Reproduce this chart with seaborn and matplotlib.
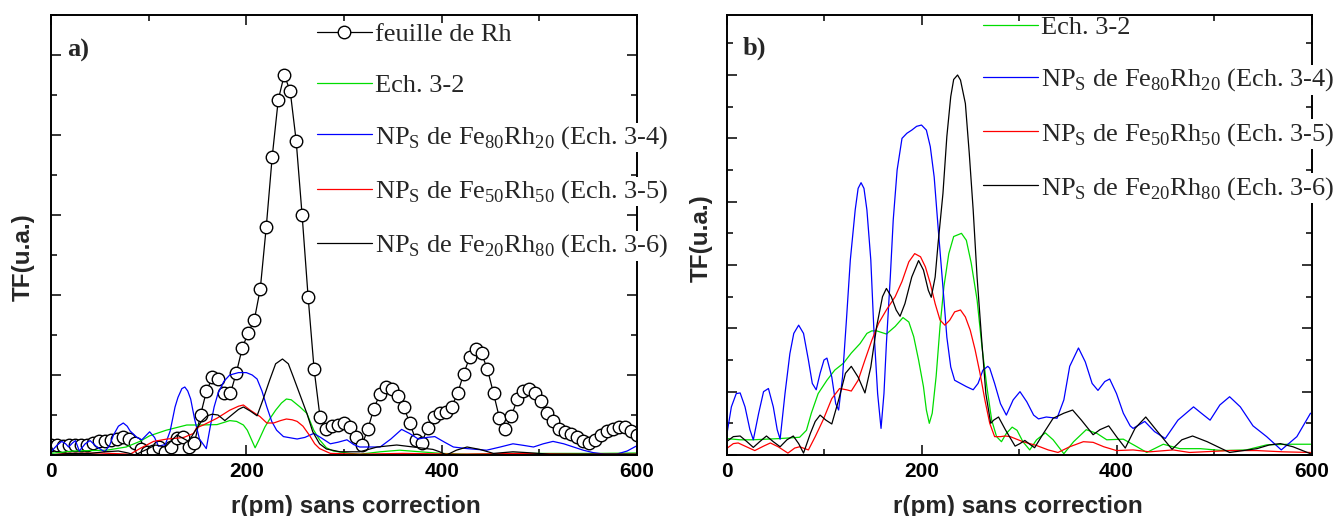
import numpy as np
import matplotlib
matplotlib.use("Agg")
import matplotlib.pyplot as plt
from matplotlib.ticker import MultipleLocator
import seaborn as sns

# ---------------- panel a) ----------------
# reference Rh foil (open circles)
rh_r = [0, 6.1, 12.2, 18.4, 24.5, 30.6, 36.7, 42.9, 49.0, 55.1,
        61.2, 67.3, 73.5, 79.6, 85.7, 91.8, 98.0, 104.1, 110.2, 116.3,
        122.4, 128.6, 134.7, 140.8, 146.9, 153.1, 159.2, 165.3, 171.4, 177.6,
        183.7, 189.8, 195.9, 202.0, 208.2, 214.3, 220.4, 226.5, 232.7, 238.8,
        244.9, 251.0, 257.1, 263.3, 269.4, 275.5, 281.6, 287.8, 293.9, 300.0,
        306.1, 312.2, 318.4, 324.5, 330.6, 336.7, 342.9, 349.0, 355.1, 361.2,
        367.3, 373.5, 379.6, 385.7, 391.8, 398.0, 404.1, 410.2, 416.3, 422.4,
        428.6, 434.7, 440.8, 446.9, 453.1, 459.2, 465.3, 471.4, 477.6, 483.7,
        489.8, 495.9, 502.0, 508.2, 514.3, 520.4, 526.5, 532.7, 538.8, 544.9,
        551.0, 557.1, 563.3, 569.4, 575.5, 581.6, 587.8, 593.9, 600.0]
rh_tf = [0.125, 0.125, 0.11, 0.125, 0.125, 0.125, 0.13, 0.15, 0.17, 0.18,
         0.19, 0.2, 0.22, 0.2, 0.15, 0.08, 0.04, 0.05, 0.1, 0.04,
         0.1, 0.21, 0.22, 0.1, 0.15, 0.5, 0.8, 0.97, 0.95, 0.78,
         0.77, 1.03, 1.34, 1.53, 1.69, 2.08, 2.85, 3.73, 4.44, 4.75,
         4.55, 3.93, 3.0, 1.97, 1.07, 0.47, 0.32, 0.36, 0.38, 0.4,
         0.35, 0.22, 0.12, 0.33, 0.58, 0.76, 0.85, 0.83, 0.74, 0.6,
         0.4, 0.19, 0.15, 0.34, 0.48, 0.53, 0.54, 0.6, 0.77, 1.01,
         1.22, 1.32, 1.27, 1.07, 0.77, 0.46, 0.32, 0.49, 0.7, 0.8,
         0.83, 0.78, 0.67, 0.53, 0.42, 0.33, 0.29, 0.26, 0.22, 0.17,
         0.15, 0.19, 0.25, 0.3, 0.33, 0.35, 0.35, 0.3, 0.25]

a_green_r = [0, 23, 57, 77, 91, 101, 118, 139, 153, 170, 183, 190, 197, 201, 205, 209,
             213, 219, 225, 230, 236, 241, 246, 250, 255, 262, 269, 275, 282, 289, 306,
             316, 337, 357, 378, 400, 426, 470, 520, 560, 600]
a_green_tf = [0.02, 0.05, 0.06, 0.10, 0.17, 0.24, 0.31, 0.375, 0.375, 0.38, 0.43, 0.42,
              0.375, 0.31, 0.2, 0.09, 0.19, 0.35, 0.47, 0.56, 0.65, 0.70, 0.69, 0.65,
              0.60, 0.52, 0.31, 0.19, 0.09, 0.05, 0.02, 0.01, 0.04, 0.06, 0.04, 0.02,
              0.01, 0.02, 0.02, 0.02, 0.025]

a_blue_r = [0, 6, 11, 15, 18, 22, 25, 29, 35, 40, 47, 55, 60, 64, 69, 74, 78, 81, 88,
            93, 97, 101, 106, 110, 117, 122, 127, 130, 134, 137, 140, 143, 147, 152, 159,
            163, 167, 171, 177, 183, 192, 200, 206, 211, 216, 221, 226, 231, 238, 252,
            260, 269, 276, 286, 294, 303, 310, 316, 337, 348, 359, 367, 376, 385, 393,
            403, 412, 426, 446, 460, 473, 484, 494, 504, 514, 525, 535, 545, 555, 567,
            579, 590, 599]
a_blue_tf = [0.04, 0.12, 0.17, 0.14, 0.10, 0.15, 0.18, 0.05, 0.14, 0.18, 0.10, 0.04,
             0.12, 0.25, 0.36, 0.40, 0.36, 0.30, 0.22, 0.19, 0.24, 0.29, 0.22, 0.11,
             0.13, 0.30, 0.60, 0.72, 0.83, 0.85, 0.80, 0.70, 0.45, 0.20, 0.08, 0.35,
             0.60, 0.77, 0.92, 1.00, 1.03, 1.03, 1.00, 0.95, 0.80, 0.60, 0.42, 0.31,
             0.23, 0.20, 0.22, 0.27, 0.22, 0.14, 0.16, 0.19, 0.13, 0.10, 0.10, 0.20,
             0.32, 0.27, 0.20, 0.22, 0.23, 0.16, 0.10, 0.08, 0.06, 0.10, 0.14, 0.12,
             0.10, 0.14, 0.17, 0.14, 0.10, 0.06, 0.03, 0.01, 0.01, 0.05, 0.11]

a_red_r = [0, 16, 50, 81, 91, 105, 119, 129, 136, 146, 149, 156, 170, 183, 192, 197,
           204, 214, 221, 228, 235, 241, 247, 252, 258, 265, 270, 275, 286, 316, 360,
           420, 480, 540, 600]
a_red_tf = [0.0, 0.02, 0.025, 0.01, 0.08, 0.17, 0.20, 0.21, 0.22, 0.27, 0.34, 0.375,
            0.46, 0.56, 0.61, 0.625, 0.56, 0.48, 0.40, 0.40, 0.43, 0.45, 0.44, 0.42,
            0.36, 0.24, 0.14, 0.08, 0.02, 0.01, 0.02, 0.01, 0.02, 0.01, 0.01]

a_black_r = [0, 20, 40, 55, 69, 79, 86, 98, 107, 117, 129, 141, 147, 154, 160, 165,
             171, 178, 186, 192, 197, 204, 211, 217, 224, 230, 237, 243, 248, 255, 262,
             268, 275, 282, 296, 316, 334, 354, 371, 391, 398, 405, 415, 426, 439, 453,
             473, 487, 511, 600]
a_black_tf = [0.0, 0.02, 0.02, 0.04, 0.05, 0.025, 0.0, 0.07, 0.125, 0.10, 0.25, 0.17,
              0.29, 0.42, 0.49, 0.51, 0.50, 0.43, 0.51, 0.57, 0.60, 0.55, 0.49, 0.69,
              0.94, 1.14, 1.20, 1.14, 0.98, 0.75, 0.52, 0.29, 0.14, 0.075, 0.04, 0.04,
              0.10, 0.125, 0.10, 0.07, 0.04, 0.0, 0.06, 0.10, 0.07, 0.02, 0.04, 0.03,
              0.01, 0.01]

# ---------------- panel b) ----------------
b_green_r = [0, 14, 27, 55, 75, 82, 87, 94, 103, 111, 120, 128, 137, 144, 149, 154,
             164, 173, 181, 187, 192, 197, 202, 205, 208, 211, 215, 219, 223, 228, 233,
             241, 246, 251, 257, 262, 267, 272, 277, 282, 287, 293, 298, 304, 311, 318,
             327, 335, 346, 356, 369, 380, 390, 407, 421, 431, 448, 465, 486, 509, 533,
             554, 578, 599]
b_green_tf = [0.26, 0.24, 0.24, 0.26, 0.28, 0.39, 0.66, 0.97, 1.18, 1.34, 1.45, 1.61,
              1.76, 1.92, 1.96, 1.96, 1.91, 2.03, 2.17, 2.10, 1.87, 1.50, 1.08, 0.71,
              0.50, 0.66, 1.24, 2.03, 2.66, 3.18, 3.45, 3.50, 3.39, 3.03, 2.45, 1.71,
              1.08, 0.55, 0.29, 0.21, 0.34, 0.44, 0.39, 0.21, 0.08, 0.24, 0.35, 0.24,
              0.02, 0.21, 0.40, 0.34, 0.24, 0.25, 0.13, 0.04, 0.17, 0.10, 0.10, 0.07,
              0.08, 0.16, 0.17, 0.17]

b_blue_r = [0, 5, 10, 14, 19, 24, 27.5, 33, 38, 43, 48, 52, 55, 60, 65, 69, 74, 79, 84,
            88, 92, 96, 100, 103, 108, 112, 115, 119, 123, 127, 132, 135, 138, 141, 144,
            148, 151, 155, 158.5, 161.5, 164, 168, 171, 175, 180, 185, 190, 195, 200,
            205, 209, 213, 217, 222, 226, 230, 234, 240, 246, 253, 258, 263, 268, 270,
            275, 281, 287, 294, 301, 308, 315, 320, 328, 339, 346, 352, 361, 368, 375,
            381, 388, 393, 400, 407, 414, 417, 429, 439, 450, 463, 479, 487, 496, 506,
            516, 527, 540, 554, 569, 585, 599]
b_blue_tf = [0.29, 0.76, 0.97, 0.98, 0.76, 0.40, 0.24, 0.66, 1.00, 1.05, 0.76, 0.40,
             0.25, 0.97, 1.60, 1.92, 2.05, 1.92, 1.50, 1.13, 1.03, 1.29, 1.50, 1.53,
             1.23, 0.81, 0.71, 1.23, 2.13, 3.08, 3.87, 4.21, 4.30, 4.21, 3.87, 3.08,
             2.03, 0.97, 0.42, 0.97, 1.76, 2.81, 3.71, 4.50, 5.00, 5.08, 5.13, 5.19,
             5.21, 5.13, 4.87, 4.39, 3.60, 2.65, 1.86, 1.39, 1.18, 1.13, 1.08, 1.03,
             1.13, 1.34, 1.40, 1.37, 1.13, 0.81, 0.63, 0.87, 1.00, 0.84, 0.63, 0.57,
             0.60, 0.58, 0.87, 1.40, 1.69, 1.47, 1.13, 1.02, 1.16, 1.20, 0.97, 0.66,
             0.46, 0.42, 0.53, 0.37, 0.26, 0.55, 0.76, 0.66, 0.55, 0.79, 0.92, 0.76,
             0.46, 0.29, 0.08, 0.29, 0.66]

b_red_r = [0, 7, 12, 19, 29, 38, 45, 53, 63, 70, 75, 84, 91, 99, 108, 116, 123, 128,
           135, 142, 149, 156, 164, 173, 180, 187, 193, 199, 204, 209, 214, 219, 224,
           229, 234, 240, 245, 250, 255, 260, 265, 270, 275, 281, 286, 291, 304, 318,
           330, 340, 352, 366, 376, 387, 400, 417, 434, 458, 475, 516, 544, 571, 599]
b_red_tf = [0.10, 0.18, 0.19, 0.14, 0.07, 0.14, 0.19, 0.13, 0.03, 0.11, 0.13, 0.08,
            0.29, 0.55, 0.89, 1.05, 1.03, 1.01, 1.18, 1.50, 1.81, 2.08, 2.29, 2.50,
            2.74, 3.05, 3.18, 3.13, 2.97, 2.71, 2.39, 2.13, 2.05, 2.13, 2.26, 2.29,
            2.18, 1.97, 1.66, 1.29, 0.87, 0.50, 0.29, 0.29, 0.30, 0.29, 0.21, 0.15,
            0.08, 0.04, 0.13, 0.21, 0.20, 0.13, 0.07, 0.08, 0.05, 0.08, 0.04, 0.07,
            0.07, 0.05, 0.04]

b_black_r = [0, 7, 14, 21, 27.5, 34, 41, 48, 55, 62, 68.5, 74, 79, 86, 91, 96, 102,
             108, 115, 122, 128, 135, 142, 148, 154, 160, 164, 169, 174, 178, 183, 190,
             197, 202, 207, 210, 214, 217, 222, 226, 230, 233, 237, 240, 245, 249, 253,
             257, 262, 266, 271, 274, 279, 286, 296, 301, 306, 311, 316, 325, 335, 346,
             355, 364, 376, 383, 392, 400, 409, 419, 430, 441, 457, 467, 478, 493, 516,
             544, 557, 568, 581, 599]
b_black_tf = [0.21, 0.29, 0.30, 0.21, 0.12, 0.21, 0.30, 0.21, 0.13, 0.24, 0.30, 0.18,
              0.03, 0.34, 0.53, 0.63, 0.55, 0.49, 0.87, 1.29, 1.40, 1.23, 0.98, 1.39,
              2.03, 2.50, 2.63, 2.50, 2.29, 2.19, 2.39, 2.81, 3.07, 2.92, 2.60, 2.49,
              2.81, 3.34, 4.13, 5.03, 5.66, 5.93, 6.00, 5.92, 5.55, 4.76, 3.87, 2.81,
              1.76, 0.97, 0.50, 0.55, 0.60, 0.40, 0.14, 0.18, 0.23, 0.17, 0.115, 0.34,
              0.58, 0.66, 0.71, 0.55, 0.32, 0.40, 0.46, 0.29, 0.11, 0.42, 0.60, 0.39,
              0.09, 0.24, 0.30, 0.21, 0.04, 0.10, 0.16, 0.18, 0.13, 0.02]

lab_rh = "feuille de Rh"
lab_32 = "Ech. 3-2"
lab_34 = r"NP$_\mathregular{S}$ de Fe$_\mathregular{80}$Rh$_\mathregular{20}$ (Ech. 3-4)"
lab_35 = r"NP$_\mathregular{S}$ de Fe$_\mathregular{50}$Rh$_\mathregular{50}$ (Ech. 3-5)"
lab_36 = r"NP$_\mathregular{S}$ de Fe$_\mathregular{20}$Rh$_\mathregular{80}$ (Ech. 3-6)"

GREEN, BLUE, RED, BLACK = "#00dd00", "#0000ff", "#ff0000", "#000000"

sns.set_style("ticks")
plt.rcParams['font.family'] = ['Liberation Sans', 'DejaVu Sans']

W, H = 1337, 516
fig = plt.figure(figsize=(W / 100, H / 100), dpi=100)
ax_a = fig.add_axes([51 / W, 61 / H, 586 / W, 440 / H])
ax_b = fig.add_axes([726.5 / W, 61 / H, 585 / W, 440 / H])

lw = 0.9
# panel a
sns.lineplot(x=rh_r, y=rh_tf, ax=ax_a, color=BLACK, lw=lw, marker="o", markersize=9,
             markerfacecolor="white", markeredgecolor="black", markeredgewidth=1.0,
             errorbar=None, label=lab_rh)
sns.lineplot(x=a_green_r, y=a_green_tf, ax=ax_a, color=GREEN, lw=lw, errorbar=None, label=lab_32)
sns.lineplot(x=a_blue_r, y=a_blue_tf, ax=ax_a, color=BLUE, lw=lw, errorbar=None, label=lab_34)
sns.lineplot(x=a_red_r, y=a_red_tf, ax=ax_a, color=RED, lw=lw, errorbar=None, label=lab_35)
sns.lineplot(x=a_black_r, y=a_black_tf, ax=ax_a, color=BLACK, lw=lw, errorbar=None, label=lab_36)

# panel b
sns.lineplot(x=b_green_r, y=b_green_tf, ax=ax_b, color=GREEN, lw=lw, errorbar=None, label=lab_32)
sns.lineplot(x=b_blue_r, y=b_blue_tf, ax=ax_b, color=BLUE, lw=lw, errorbar=None, label=lab_34)
sns.lineplot(x=b_red_r, y=b_red_tf, ax=ax_b, color=RED, lw=lw, errorbar=None, label=lab_35)
sns.lineplot(x=b_black_r, y=b_black_tf, ax=ax_b, color=BLACK, lw=lw, errorbar=None, label=lab_36)

ax_a.set_ylim(0, 5.5)
ax_b.set_ylim(0, 440 / 63.33)

for ax in (ax_a, ax_b):
    ax.set_xlim(0, 600)
    ax.xaxis.set_major_locator(MultipleLocator(200))
    ax.xaxis.set_minor_locator(MultipleLocator(100))
    ax.yaxis.set_major_locator(MultipleLocator(1))
    ax.yaxis.set_minor_locator(MultipleLocator(0.5))
    ax.tick_params(which="both", direction="in", top=True, right=True,
                   width=1.1, color="black", labelleft=False)
    ax.tick_params(which="major", length=7.5)
    ax.tick_params(which="minor", length=4)
    ax.tick_params(axis="x", labelsize=15, pad=5, labelcolor="black")
    for tl in ax.get_xticklabels():
        tl.set_fontweight("bold")
    for sp in ax.spines.values():
        sp.set_color("black")
        sp.set_linewidth(1.4)
    ax.set_xlabel("r(pm) sans correction", fontsize=17.5, fontweight="bold")
    ax.set_ylabel("TF(u.a.)", fontsize=17.5, fontweight="bold")
    ax.xaxis.label.set_va("baseline")
    ax.yaxis.label.set_va("center")

ax_a.xaxis.set_label_coords(0.52, -0.132)
ax_b.xaxis.set_label_coords(0.498, -0.132)
ax_a.yaxis.set_label_coords(-0.048, 0.45)
ax_b.yaxis.set_label_coords(-0.044, 0.494)

ax_a.text(0.028, 0.92, "a)", transform=ax_a.transAxes, fontfamily="Liberation Serif",
          fontweight="bold", fontsize=19, va="center")
ax_b.text(0.027, 0.925, "b)", transform=ax_b.transAxes, fontfamily="Liberation Serif",
          fontweight="bold", fontsize=19, va="center")

leg_kw = dict(loc="upper left", bbox_transform=fig.transFigure, frameon=False,
              prop={"family": "Liberation Serif", "size": 19}, handlelength=2.08,
              handletextpad=0.12, labelspacing=1.03, borderpad=0, borderaxespad=0)
for ax, x0, y0 in ((ax_a, 317, 23), (ax_b, 983, 16)):
    leg = ax.legend(bbox_to_anchor=(x0 / W, 1 - y0 / H), **leg_kw)
    for t in leg.get_texts():
        t.set_bbox(dict(facecolor="white", edgecolor="none", pad=1))

fig.savefig("out.png", dpi=100)
